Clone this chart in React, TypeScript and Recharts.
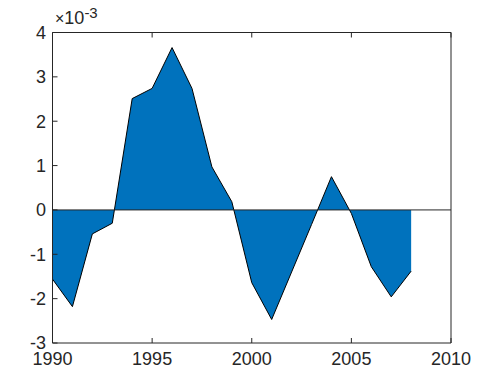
import React from 'react';
import { ComposedChart, Area, XAxis, YAxis, ReferenceLine } from 'recharts';

const years = [1990, 1991, 1992, 1993, 1994, 1995, 1996, 1997, 1998, 1999, 2000, 2001, 2002, 2003, 2004, 2005, 2006, 2007, 2008];
// values in units of 1e-3
const values = [-1.56, -2.18, -0.54, -0.3, 2.51, 2.74, 3.66, 2.74, 0.97, 0.185, -1.64, -2.47, -1.4, -0.33, 0.75, -0.08, -1.28, -1.96, -1.38];
const xTicks = [1990, 1995, 2000, 2005, 2010];
const yTicks = [-3, -2, -1, 0, 1, 2, 3, 4];
const exponentBase = '10';
const exponentPower = '-3';

const data = years.map((year, i) => ({ year, v: values[i] }));

const FONT = '"Liberation Sans", Arial, Helvetica, sans-serif';
const INK = '#262626';
const FS = 18;
const TL = 5;

const BottomTick = (props: any) => {
  const { x, y, payload } = props;
  return (
    <g>
      <line x1={x} y1={y} x2={x} y2={y - TL} stroke={INK} strokeWidth={1} />
      <text x={x} y={y + 9} dy="0.71em" textAnchor="middle" fill={INK} fontSize={FS} fontFamily={FONT}>
        {payload.value}
      </text>
    </g>
  );
};

const LeftTick = (props: any) => {
  const { x, y, payload } = props;
  return (
    <g>
      <line x1={x} y1={y} x2={x + TL} y2={y} stroke={INK} strokeWidth={1} />
      <text x={x - 6.5} y={y} dy="0.355em" textAnchor="end" fill={INK} fontSize={FS} fontFamily={FONT}>
        {payload.value}
      </text>
    </g>
  );
};

const TopTick = (props: any) => {
  const { x, y } = props;
  return <line x1={x} y1={y} x2={x} y2={y + TL} stroke={INK} strokeWidth={1} />;
};

const RightTick = (props: any) => {
  const { x, y } = props;
  return <line x1={x} y1={y} x2={x - TL} y2={y} stroke={INK} strokeWidth={1} />;
};

export default function App() {
  return (
    <div style={{ position: 'absolute', left: 0, top: 0, width: 495, height: 382, background: '#fff' }}>
      <ComposedChart
        width={495}
        height={382}
        data={data}
        margin={{ top: 31.5, right: 43, bottom: 0, left: 0 }}
      >
        <XAxis
          xAxisId="bottom"
          dataKey="year"
          type="number"
          domain={[1990, 2010]}
          ticks={xTicks}
          interval={0}
          height={39}
          tickSize={0}
          tickMargin={0}
          tickLine={false}
          tick={<BottomTick />}
          axisLine={{ stroke: INK }}
        />
        <XAxis
          xAxisId="top"
          orientation="top"
          dataKey="year"
          type="number"
          domain={[1990, 2010]}
          ticks={xTicks}
          interval={0}
          height={1}
          tickSize={0}
          tickMargin={0}
          tickLine={false}
          tick={<TopTick />}
          axisLine={{ stroke: INK }}
        />
        <YAxis
          yAxisId="left"
          type="number"
          domain={[-3, 4]}
          ticks={yTicks}
          interval={0}
          width={52.5}
          tickSize={0}
          tickMargin={0}
          tickLine={false}
          tick={<LeftTick />}
          axisLine={{ stroke: INK }}
        />
        <YAxis
          yAxisId="right"
          orientation="right"
          type="number"
          domain={[-3, 4]}
          ticks={yTicks}
          interval={0}
          width={1}
          tickSize={0}
          tickMargin={0}
          tickLine={false}
          tick={<RightTick />}
          axisLine={{ stroke: INK }}
        />
        <Area
          xAxisId="bottom"
          yAxisId="left"
          type="linear"
          dataKey="v"
          baseValue={0}
          stroke="#000000"
          strokeWidth={1}
          fill="#0072BD"
          fillOpacity={1}
          isAnimationActive={false}
          dot={false}
          activeDot={false}
        />
        <ReferenceLine xAxisId="bottom" yAxisId="left" y={0} stroke={INK} strokeWidth={1} />
      </ComposedChart>
      <div
        style={{
          position: 'absolute',
          left: 55,
          top: 9,
          fontFamily: FONT,
          fontSize: FS,
          lineHeight: '18px',
          color: INK,
          whiteSpace: 'nowrap',
        }}
      >
        <span style={{ fontSize: 16 }}>×</span>{exponentBase}
        <span style={{ fontSize: 15, position: 'relative', top: -6 }}>{exponentPower}</span>
      </div>
    </div>
  );
}
